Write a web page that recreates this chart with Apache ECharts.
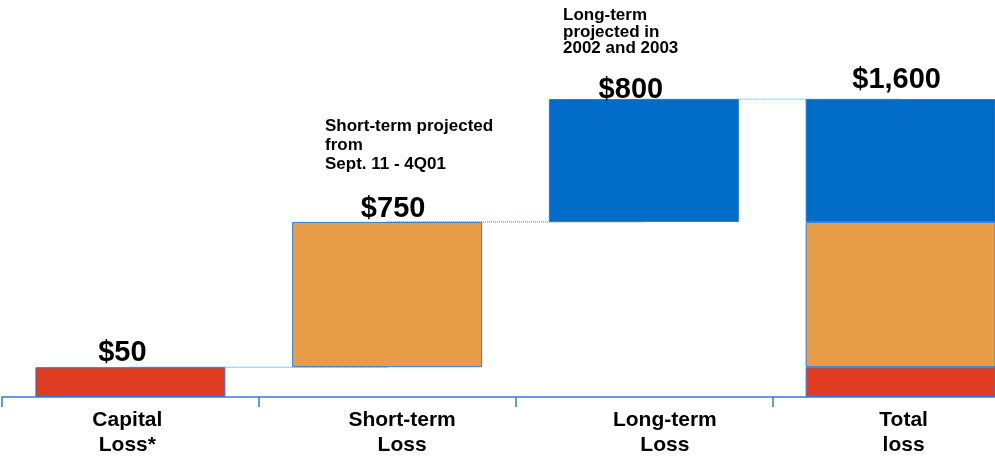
<!DOCTYPE html>
<html>
<head>
<meta charset="utf-8">
<script src="https://cdn.jsdelivr.net/npm/echarts@6/dist/echarts.min.js"></script>
<style>
  html, body { margin: 0; padding: 0; background: #fff; overflow: hidden; }
  /* slide is cropped on the right: the plot runs past the window edge */
  #chart { width: 1029px; height: 457px; }
</style>
</head>
<body>
<div id="chart"></div>
<script>
// categories on the bottom axis
var categories = ['Capital\nLoss*', 'Short-term\nLoss', 'Long-term\nLoss', 'Total\nloss'];
// amounts printed above each bar
var amountLabels = ['$50', '$750', '$800', '$1,600'];
// step heights as drawn on the slide (it is not drawn to scale)
var stepHeights = [160, 780, 660];
var stepNames = ['Capital Loss', 'Short-term Loss', 'Long-term Loss'];
// notes written above the two middle bars
var noteShort = 'Short-term projected\nfrom\nSept. 11 - 4Q01';
var noteLong = 'Long-term\nprojected in\n2002 and 2003';

var FONT = '"Liberation Sans", Arial, sans-serif';
var stepColors = ['#e03c22', '#e89e48', '#006cc8'];
var edgeBlue = '#2f7bd6';

// invisible base under each floating bar + running tops for the dotted connectors
var baseData = [];
var levels = [];
var running = 0;
stepHeights.forEach(function (h) {
  baseData.push(running);
  running += h;
  levels.push(running);
});
baseData.push(0);        // total bar starts from zero
levels.push(running);

// nudges for the amount labels (slide has them a bit off centre)
var labelNudge = [[-8, 0], [6, 2], [-13, 5], [-4, -5]];

function amountLabel (i) {
  return {
    show: true,
    position: 'top',
    distance: 0,
    offset: labelNudge[i],
    formatter: amountLabels[i],
    fontFamily: FONT,
    fontSize: 29,
    fontWeight: 'bold',
    color: '#000'
  }
}

var last = categories.length - 1;
var segSeries = stepHeights.map(function (h, k) {
  var data = categories.map(function (c, i) {
    if (i === k) return {value: h, label: amountLabel(i)};
    if (i === last) {
      return k === stepHeights.length - 1 ? {value: h, label: amountLabel(i)} : h;
    }
    return '-';
  });
  return {
    name: stepNames[k],
    type: 'bar',
    stack: 'loss',
    barWidth: 190,
    z: 3,
    silent: true,
    itemStyle: {color: stepColors[k], borderColor: edgeBlue, borderWidth: 1},
    data: data
  }
});

// per-category horizontal shift of the axis text
var labelShift = [
  [0, 6, 0, 0],
  [0, 0, 0, 30],
  [0, 0, 0, 42],
  [0, 0, 0, 6]
];
var rich = {};
labelShift.forEach(function (p, i) {
  rich['s' + i] = {
    fontFamily: FONT, fontSize: 21, fontWeight: 'bold', color: '#000',
    lineHeight: 25, padding: p
  };
});

var myChart = echarts.init(document.getElementById('chart'));
var option = {
  animation: false,
  grid: {left: 2, right: 0, top: 99, bottom: 60, containLabel: false, outerBoundsMode: 'none'},
  xAxis: {
    type: 'category',
    data: categories,
    axisLine: {lineStyle: {color: edgeBlue, width: 1.5}},
    axisTick: {show: true, length: 10, lineStyle: {color: edgeBlue, width: 1.5}},
    axisLabel: {
      margin: 11,
      interval: 0,
      fontFamily: FONT,
      fontSize: 21,
      fontWeight: 'bold',
      color: '#000',
      lineHeight: 25,
      formatter: function (value, index) {
        return value.split('\n').map(function (line) {
          return '{s' + index + '|' + line + '}';
        }).join('\n');
      },
      rich: rich
    }
  },
  yAxis: {
    type: 'value',
    min: 0,
    max: 1600,
    show: false,
    splitLine: {show: false}
  },
  series: [
    {
      name: 'connector',
      type: 'line',
      step: 'end',
      symbol: 'none',
      silent: true,
      z: 1,
      lineStyle: {type: 'dotted', width: 1, color: edgeBlue},
      data: levels
    },
    {
      name: 'base',
      type: 'bar',
      stack: 'loss',
      barWidth: 190,
      silent: true,
      itemStyle: {color: 'transparent', borderWidth: 0},
      data: baseData
    }
  ].concat(segSeries),
  graphic: [
    {
      type: 'text',
      left: 325,
      top: 117,
      style: {text: noteShort, font: 'bold 17px ' + FONT, lineHeight: 19, fill: '#000'}
    },
    {
      type: 'text',
      left: 563,
      top: 7,
      style: {text: noteLong, font: 'bold 17px ' + FONT, lineHeight: 16.5, fill: '#000'}
    }
  ]
};
myChart.setOption(option);
</script>
</body>
</html>
